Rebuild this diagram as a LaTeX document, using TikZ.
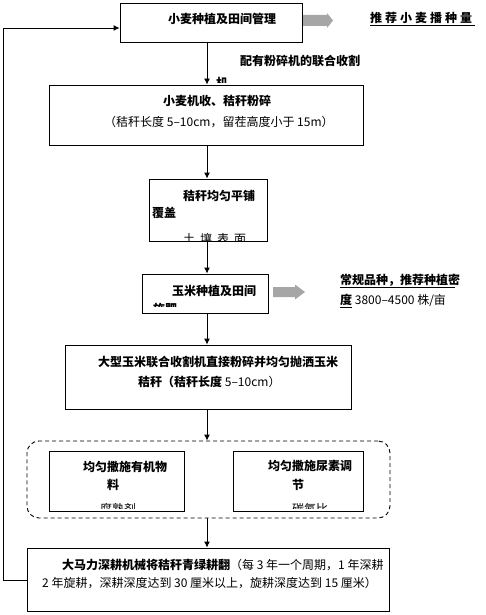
\documentclass[tikz,border=0pt]{standalone}
\usepackage{fontspec}
\newfontfamily\cjk{Noto Sans CJK SC}
\usetikzlibrary{arrows.meta}
\definecolor{arrgray}{RGB}{166,166,166}
\tikzset{
  box/.style={draw=black, line width=0.9pt, rectangle, inner sep=0pt},
  grpbox/.style={draw=black, line width=0.9pt, dashed, dash pattern=on 4pt off 3pt, rounded corners=12pt, rectangle, inner sep=0pt},
  arr/.style={draw=black, line width=0.9pt, -{Latex[length=6pt,width=6pt]}},
  uline/.style={draw=black, line width=1.1pt},
  tb/.style={anchor=base west, inner sep=0pt, font=\cjk\bfseries\fontsize{12pt}{14pt}\selectfont},
  tr/.style={anchor=base west, inner sep=0pt, font=\cjk\fontsize{12pt}{14pt}\selectfont},
}
\begin{document}
\begin{tikzpicture}[x=1pt,y=-1pt]
\useasboundingbox (0,0) rectangle (485,615);
% boxes
\node[box, minimum width=182pt, minimum height=39pt] (b1) at (211,22.5) {};
\node[box, minimum width=314pt, minimum height=60pt] (b2) at (206,115) {};
\node[box, minimum width=118pt, minimum height=62pt] (b3) at (208,210) {};
\node[box, minimum width=126pt, minimum height=39pt] (b4) at (205,293.5) {};
\node[box, minimum width=286pt, minimum height=64pt] (b5) at (208,377) {};
\node[grpbox, minimum width=363pt, minimum height=77pt] (grp) at (208.5,479.5) {};
\node[box, minimum width=135pt, minimum height=60pt] (b6) at (116.5,481) {};
\node[box, minimum width=130pt, minimum height=60pt] (b7) at (298,481) {};
\node[box, minimum width=362pt, minimum height=63pt] (b8) at (208,579.5) {};
% connectors
\coordinate (spine) at (207,0);
\draw[arr] (b1.south -| spine) -- (b2.north -| spine);
\draw[arr] (b2.south -| spine) -- (b3.north -| spine);
\draw[arr] (b3.south -| spine) -- (b4.north -| spine);
\draw[arr] (b4.south -| spine) -- (b5.north -| spine);
\draw[arr] (b5.south -| spine) -- (grp.north -| spine);
\draw[arr] (grp.south -| spine) -- (b8.north -| spine);
\coordinate (lbot) at (3,580);
\coordinate (ltop) at (3,28);
\draw[arr] (b8.west |- lbot) -- (lbot) -- (ltop) -- (b1.west |- ltop);
% gray arrows
\fill[arrgray] (303,15) -- (327,15) -- (327,13) -- (333,20.5) -- (327,28) -- (327,26) -- (303,26) -- cycle;
\fill[arrgray] (273,287) -- (295,287) -- (295,284.5) -- (305,292) -- (295,299.5) -- (295,297) -- (273,297) -- cycle;
% texts
\node[tb] (t1) at (168,23.6) {小麦种植及田间管理};
\node[tb] (t1r) at (370,22.6) {推\hspace{3pt}荐\hspace{3pt}小\hspace{3pt}麦\hspace{3pt}播\hspace{3pt}种\hspace{3pt}量};
\draw[uline] (t1r.base west) ++(0,3) -- ++(105,0);
\node[tb] (tl) at (240,65.6) {配有粉碎机的联合收割};
\begin{scope}
\clip (200,76) rectangle (240,82.5);
\node[tb] (tlc) at (216,88) {机};
\end{scope}
\node[tb] (t2a) at (163,105.6) {小麦机收、秸秆粉碎};
\node[tr] (t2b) at (104,126.4) {（秸秆长度 5–10cm，留茬高度小于 15m）};
\node[tb] (t3a) at (183,200.6) {秸秆均匀平铺};
\node[tb] (t3b) at (152,217.6) {覆盖};
\begin{scope}
\clip (b3.south west) rectangle (b3.north east);
\node[tr] (t3c) at (183,243) {土\hspace{5pt}壤\hspace{5pt}表\hspace{5pt}面};
\end{scope}
\node[tb] (t4a) at (172,295.6) {玉米种植及田间};
\begin{scope}
\clip (145,300) rectangle (200,306.5);
\node[tb] (t4b) at (153,313) {施肥};
\end{scope}
\node[tb] (t4r1) at (340,284.6) {常规品种，推荐种植密};
\draw[uline] (t4r1.base west) ++(0,3) -- ++(115,0);
\node[tb] (t4r2a) at (340,304.6) {度};
\draw[uline] (t4r2a.base west) ++(0,3) -- ++(12,0);
\node[tr] (t4r2b) at (352,304.6) {\ 3800–4500 株/亩};
\node[tb] (t5a) at (98,366.6) {大型玉米联合收割机直接粉碎并均匀抛洒玉米};
\node[tb] (t5b) at (138,386.6) {秸秆（秸秆长度\mdseries\ 5–10cm）};
\node[tb] (t6a) at (83,471.6) {均匀撒施有机物};
\node[tb] (t6b) at (107,489.6) {料};
\begin{scope}
\clip (90,500) rectangle (180,508);
\node[tr] (t6c) at (100,513) {腐熟剂};
\end{scope}
\node[tb] (t7a) at (268,470.6) {均匀撒施尿素调};
\node[tb] (t7b) at (292,489.6) {节};
\begin{scope}
\clip (280,500) rectangle (360,508);
\node[tr] (t7c) at (292,513) {碳氮比};
\end{scope}
\node[tb] (t8a) at (62,569.6) {大马力深耕机械将秸秆青绿耕翻\mdseries（每 3 年一个周期，1 年深耕};
\node[tr] (t8b) at (42,587.6) {2 年旋耕，深耕深度达到 30 厘米以上，旋耕深度达到 15 厘米）};
\end{tikzpicture}
\end{document}
